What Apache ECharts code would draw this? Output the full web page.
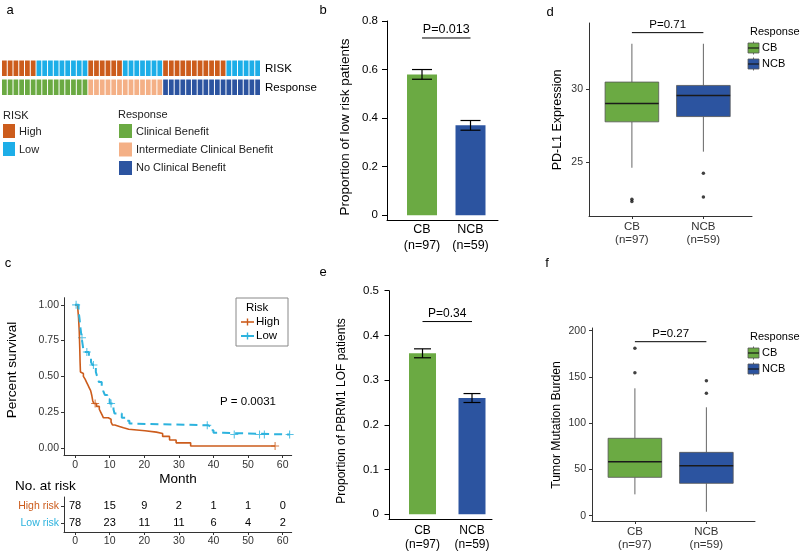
<!DOCTYPE html>
<html><head><meta charset="utf-8">
<script src="https://cdn.jsdelivr.net/npm/echarts@6/dist/echarts.min.js"></script>
<style>html,body{margin:0;padding:0;background:#fff}#c{width:800px;height:555px}</style>
</head><body><div id="c"></div>
<script>
const FF = 'Liberation Sans, Arial, Helvetica, sans-serif';

// ---------- Panel a ----------
const riskRow = [
 'High','High','High','High','High','High',
 'Low','Low','Low','Low','Low','Low','Low','Low','Low',
 'High','High','High','High','High','High',
 'Low','Low','Low','Low','Low','Low','Low',
 'High','High','High','High','High','High','High','High','High','High','High',
 'Low','Low','Low','Low','Low','Low'];
const responseRow = [
 'CB','CB','CB','CB','CB','CB','CB','CB','CB','CB','CB','CB','CB','CB','CB',
 'ICB','ICB','ICB','ICB','ICB','ICB','ICB','ICB','ICB','ICB','ICB','ICB','ICB',
 'NCB','NCB','NCB','NCB','NCB','NCB','NCB','NCB','NCB','NCB','NCB','NCB','NCB','NCB','NCB','NCB','NCB'];
const heatRows = ['Response','RISK'];
const riskLevels = ['High','Low'];
const responseCodes = ['CB','ICB','NCB'];
const responseNames = ['Clinical Benefit','Intermediate Clinical Benefit','No Clinical Benefit'];

// ---------- Groups (b, d, e, f) ----------
const groupNames = ['CB','NCB'];
const groupSizes = [97,59];

// Panel b
const lowRiskProp = [0.58, 0.37];
const lowRiskErr = [[0.56,0.60],[0.35,0.39]];
const pLowRisk = 'P=0.013';
// Panel e
const pbrm1Prop = [0.36, 0.26];
const pbrm1Err = [[0.35,0.37],[0.25,0.27]];
const pPbrm1 = 'P=0.34';
// Panel d  [min, Q1, median, Q3, max]
const pdl1Box = [[24.6,27.74,28.99,30.46,33.08],[25.7,28.1,29.54,30.23,33.08]];
const pdl1Outliers = [[1,22.45],[1,22.3],[2,24.23],[2,22.6]];
const pPdl1 = 'P=0.71';
// Panel f
const tmbBox = [[23.1,41.5,58.4,83.7,137.7],[4.3,35,54,68.5,117.2]];
const tmbOutliers = [[1,181],[1,154.6],[2,146],[2,132.3]];
const pTmb = 'P=0.27';

// Panel c
const kmHigh = [[0,1],[0.8,0.97],[1.0,0.91],[1.2,0.82],[1.35,0.70],[1.45,0.60],[1.55,0.53],[2.0,0.52],[2.4,0.50],[2.9,0.48],[3.3,0.46],[3.7,0.44],[4.1,0.42],[4.5,0.40],[4.8,0.37],[5.1,0.33],[5.4,0.31],[6.2,0.29],[7.0,0.27],[7.4,0.25],[7.8,0.23],[8.2,0.21],[9.6,0.20],[10.4,0.18],[10.8,0.16],[11.5,0.15],[12.8,0.14],[14.0,0.13],[15.5,0.12],[20.2,0.11],[23.5,0.10],[25.3,0.08],[27.3,0.055],[29.2,0.035],[33.4,0.013],[57.8,0.013]];
const kmLow = [[0,1],[1.0,0.96],[1.3,0.90],[1.6,0.83],[1.9,0.77],[2.2,0.72],[2.5,0.67],[4.0,0.63],[4.6,0.60],[5.0,0.58],[6.0,0.53],[6.5,0.49],[6.9,0.46],[7.7,0.43],[8.1,0.40],[8.6,0.37],[9.3,0.34],[10.0,0.31],[11.1,0.27],[11.4,0.24],[13.5,0.21],[14.5,0.19],[15.7,0.17],[16.2,0.158],[38.5,0.145],[39.3,0.123],[40.0,0.105],[42.8,0.093],[62,0.093]];
const censorHigh = [[5.8,0.31],[57.8,0.013]];
const censorLow = [[0.3,1],[2.0,0.77],[3.4,0.67],[5.3,0.58],[10.4,0.31],[38.2,0.158],[46,0.093],[53.3,0.093],[54.7,0.093],[62,0.093]];
const riskMonths = [0,10,20,30,40,50,60];
const atRiskHigh = [78,15,9,2,1,1,0];
const atRiskLow = [78,23,11,11,6,4,2];
const riskTableRows = ['Low risk','High risk'];
const pKM = 'P = 0.0031';
const kmTicksY = [0,0.25,0.5,0.75,1];

// ---------- Colours ----------
const COL = {High:'#CC5C1C', Low:'#1DAEE8', CB:'#6BAA43', ICB:'#F4B086', NCB:'#2C54A0'};
const KM_HIGH = '#CC5C1C', KM_LOW = '#2DB3DE';
const groupColors = [COL.CB, COL.NCB];

const chart = echarts.init(document.getElementById('c'));

function T(x, y, text, o) {
  o = o || {};
  return {type:'text', x:x, y:y, rotation:o.rot||0, silent:true,
    style:{text:text, fill:o.color||'#000', fontSize:o.size||12, fontFamily:FF,
      align:o.align||'left', verticalAlign:o.va||'middle'}};
}
function R(x, y, w, h, fill, stroke) {
  return {type:'rect', shape:{x:x,y:y,width:w,height:h}, silent:true,
    style:{fill:fill, stroke:stroke||null, lineWidth:stroke?0.8:0}};
}
function L(x1,y1,x2,y2,stroke,w,dash){
  return {type:'line', shape:{x1:x1,y1:y1,x2:x2,y2:y2}, silent:true, style:{stroke:stroke, lineWidth:w||1, lineDash:dash||null}};
}
const groupLabel = v => { const i = Math.round(v)-1; return groupNames[i] + '\n(n=' + groupSizes[i] + ')'; };

// ---- cells
const cellData = [], cellColors = [];
riskRow.forEach((v,i)=>{ cellData.push([i,1]); cellColors.push(COL[v]); });
responseRow.forEach((v,i)=>{ cellData.push([i,0]); cellColors.push(COL[v]); });

function cellRender(params, api){
  const p = api.coord([api.value(0), api.value(1)]);
  const s = api.size([1,1]);
  return {type:'rect', shape:{x:p[0]-s[0]/2, y:p[1]-s[1]/2+1.5, width:s[0]-1, height:s[1]-3.5},
    style:{fill:cellColors[params.dataIndex]}};
}
function barRender(width){ return (params, api)=>{
  const x = api.value(0);
  const top = api.coord([x, api.value(1)]), base = api.coord([x, 0]);
  return {type:'rect', shape:{x:top[0]-width/2, y:top[1], width:width, height:base[1]-top[1]},
    style:{fill:groupColors[params.dataIndex]}};
};}
function errRender(cap){ return (params, api)=>{
  const x = api.value(0);
  const lo = api.coord([x, api.value(1)]), hi = api.coord([x, api.value(2)]);
  const st = {stroke:'#000', lineWidth:1.2};
  return {type:'group', children:[
    {type:'line', shape:{x1:lo[0],y1:lo[1],x2:hi[0],y2:hi[1]}, style:st},
    {type:'line', shape:{x1:lo[0]-cap/2,y1:lo[1],x2:lo[0]+cap/2,y2:lo[1]}, style:st},
    {type:'line', shape:{x1:hi[0]-cap/2,y1:hi[1],x2:hi[0]+cap/2,y2:hi[1]}, style:st}]};
};}
function bracketRender(label, size){ return (params, api)=>{
  const a = api.coord([api.value(0), api.value(2)]), b = api.coord([api.value(1), api.value(2)]);
  return {type:'group', children:[
    {type:'line', shape:{x1:a[0],y1:a[1],x2:b[0],y2:b[1]}, style:{stroke:'#000', lineWidth:1}},
    {type:'text', x:(a[0]+b[0])/2, y:a[1]-1.5, style:{text:label, fill:'#000', fontSize:size, fontFamily:FF, align:'center', verticalAlign:'bottom'}}]};
};}
function boxRender(params, api){
  const x = api.value(0);
  const w = api.size([0.75, 0])[0];
  const c = k => api.coord([x, api.value(k)]);
  const pMin=c(1), pQ1=c(2), pMed=c(3), pQ3=c(4), pMax=c(5);
  const cx = pMin[0];
  const fill = groupColors[params.dataIndex];
  return {type:'group', children:[
    {type:'line', shape:{x1:cx,y1:pQ3[1],x2:cx,y2:pMax[1]}, style:{stroke:'#666', lineWidth:1}},
    {type:'line', shape:{x1:cx,y1:pQ1[1],x2:cx,y2:pMin[1]}, style:{stroke:'#666', lineWidth:1}},
    {type:'rect', shape:{x:cx-w/2, y:pQ3[1], width:w, height:pQ1[1]-pQ3[1]}, style:{fill:fill, stroke:'#555', lineWidth:0.8}},
    {type:'line', shape:{x1:cx-w/2,y1:pMed[1],x2:cx+w/2,y2:pMed[1]}, style:{stroke:'#1a1a1a', lineWidth:1.6}}]};
}
function riskTextRender(params, api){
  const p = api.coord([api.value(0), api.value(1)]);
  return {type:'text', x:p[0], y:p[1], style:{text:String(api.value(2)), fill:'#000', fontSize:11, fontFamily:FF, align:'center', verticalAlign:'middle'}};
}

const CROSS = 'path://M-0.8,-6H0.8V-0.8H6V0.8H0.8V6H-0.8V0.8H-6V-0.8H-0.8Z';

// ---- axes helpers
function valAxis(grid, min, max, ticks, o){
  o = o || {};
  return {type:'value', gridIndex:grid, min:min, max:max, splitLine:{show:false},
    axisLine:{show:true, onZero:false, lineStyle:{color:o.lineColor||'#333', width:1}},
    axisTick:{show:o.tick!==false, length:o.tickLen||3, customValues:ticks, lineStyle:{color:o.lineColor||'#333'}},
    axisLabel:{customValues:ticks, formatter:o.fmt, color:o.labelColor||'#333', fontSize:o.size||10.5,
      margin:o.margin||5, fontFamily:FF, lineHeight:o.lh, showMinLabel:true, showMaxLabel:true}};
}

const xAxis = [
  {type:'category', gridIndex:0, data:riskRow.map((v,i)=>i), show:false},
  valAxis(1, 0.278, 2.567, [1,2], {tick:false, fmt:groupLabel, labelColor:'#000', size:12.5, margin:2, lh:16, lineColor:'#000'}),
  valAxis(2, 0.4, 2.68, [1,2], {fmt:groupLabel, size:11.5, margin:4, lh:13}),
  valAxis(3, -3.2, 62.6, riskMonths, {fmt:v=>String(v), size:10.5, margin:5}),
  valAxis(4, -3.2, 62.6, riskMonths, {fmt:v=>String(v), size:10.5, margin:4}),
  valAxis(5, 0.323, 2.404, [1,2], {tick:false, fmt:groupLabel, labelColor:'#000', size:12, margin:5, lh:14, lineColor:'#000'}),
  valAxis(6, 0.4, 2.68, [1,2], {fmt:groupLabel, size:11.5, margin:4, lh:13})
];
const yAxis = [
  {type:'category', gridIndex:0, data:heatRows, position:'right', axisLine:{show:false}, axisTick:{show:false},
    axisLabel:{color:'#000', fontSize:11.5, margin:4, fontFamily:FF}},
  valAxis(1, -0.02, 0.8, [0,0.2,0.4,0.6,0.8], {fmt:v=>v===0?'0':v.toFixed(1), labelColor:'#000', lineColor:'#000', size:11.5, margin:9, tickLen:5}),
  valAxis(2, 21.3, 34.5, [25,30], {fmt:v=>String(v), size:10.5, margin:6}),
  valAxis(3, -0.05, 1.05, kmTicksY, {fmt:v=>v.toFixed(2), size:10.5, margin:5}),
  {type:'category', gridIndex:4, data:riskTableRows.map((r,i)=>({value:r, textStyle:{color:i===1?KM_HIGH:KM_LOW}})),
    axisLine:{show:true, onZero:false, lineStyle:{color:'#333'}}, axisTick:{show:true, length:3, alignWithLabel:true, lineStyle:{color:'#333'}},
    axisLabel:{fontSize:10.5, margin:5, fontFamily:FF}},
  valAxis(5, -0.0105, 0.5, [0,0.1,0.2,0.3,0.4,0.5], {fmt:v=>v===0?'0':v.toFixed(1), labelColor:'#000', lineColor:'#000', size:11.5, margin:10, tickLen:4.5}),
  valAxis(6, -5.7, 202.9, [0,50,100,150,200], {fmt:v=>String(v), size:10.5, margin:6})
];
const grid = [
  {left:2, top:59, width:259, height:38},
  {left:387, top:21, width:111, height:199},
  {left:589, top:23, width:163, height:193},
  {left:64, top:297.7, width:227.7, height:157.3},
  {left:64, top:497, width:227.7, height:35},
  {left:389, top:290.7, width:103, height:228.3},
  {left:592, top:328, width:163, height:193}
];

const S = (o) => Object.assign({silent:true, animation:false}, o);
const series = [
  S({type:'custom', xAxisIndex:0, yAxisIndex:0, renderItem:cellRender, data:cellData}),
  // b
  S({type:'custom', xAxisIndex:1, yAxisIndex:1, renderItem:barRender(30), data:lowRiskProp.map((v,i)=>[i+1,v])}),
  S({type:'custom', xAxisIndex:1, yAxisIndex:1, renderItem:errRender(20), data:lowRiskErr.map((e,i)=>[i+1,e[0],e[1]])}),
  S({type:'custom', xAxisIndex:1, yAxisIndex:1, renderItem:bracketRender(pLowRisk,12.5), data:[[1,2,0.73]]}),
  // d
  S({type:'custom', xAxisIndex:2, yAxisIndex:2, renderItem:boxRender, data:pdl1Box.map((b,i)=>[i+1].concat(b))}),
  S({type:'scatter', xAxisIndex:2, yAxisIndex:2, symbol:'circle', symbolSize:3.5, itemStyle:{color:'#111'}, data:pdl1Outliers}),
  S({type:'custom', xAxisIndex:2, yAxisIndex:2, renderItem:bracketRender(pPdl1,11.5), data:[[1,2,33.84]]}),
  // c
  S({type:'line', xAxisIndex:3, yAxisIndex:3, step:'end', showSymbol:false, data:kmHigh, lineStyle:{color:KM_HIGH, width:1.6}}),
  S({type:'line', xAxisIndex:3, yAxisIndex:3, step:'end', showSymbol:false, data:kmLow, lineStyle:{color:KM_LOW, width:2, type:[8,5]}}),
  S({type:'scatter', xAxisIndex:3, yAxisIndex:3, symbol:CROSS, symbolSize:8, itemStyle:{color:KM_HIGH}, data:censorHigh}),
  S({type:'scatter', xAxisIndex:3, yAxisIndex:3, symbol:CROSS, symbolSize:8, itemStyle:{color:KM_LOW}, data:censorLow}),
  S({type:'custom', xAxisIndex:4, yAxisIndex:4, renderItem:riskTextRender,
     data:riskMonths.map((m,i)=>[m,1,atRiskHigh[i]]).concat(riskMonths.map((m,i)=>[m,0,atRiskLow[i]]))}),
  // e
  S({type:'custom', xAxisIndex:5, yAxisIndex:5, renderItem:barRender(27), data:pbrm1Prop.map((v,i)=>[i+1,v])}),
  S({type:'custom', xAxisIndex:5, yAxisIndex:5, renderItem:errRender(17), data:pbrm1Err.map((e,i)=>[i+1,e[0],e[1]])}),
  S({type:'custom', xAxisIndex:5, yAxisIndex:5, renderItem:bracketRender(pPbrm1,12), data:[[1,2,0.431]]}),
  // f
  S({type:'custom', xAxisIndex:6, yAxisIndex:6, renderItem:boxRender, data:tmbBox.map((b,i)=>[i+1].concat(b))}),
  S({type:'scatter', xAxisIndex:6, yAxisIndex:6, symbol:'circle', symbolSize:3.5, itemStyle:{color:'#111'}, data:tmbOutliers}),
  S({type:'custom', xAxisIndex:6, yAxisIndex:6, renderItem:bracketRender(pTmb,11.5), data:[[1,2,188.1]]})
];

// ---- graphic: labels, legends, titles
const g = [];
[['a',10,10],['b',323,10],['d',550,12],['c',8,263],['e',323,272],['f',547,263]].forEach(p=>g.push(T(p[1],p[2],p[0],{size:13,align:'center'})));
// panel a legends
g.push(T(3,116,'RISK',{size:11,color:'#222'}));
riskLevels.forEach((lv,i)=>{ g.push(R(3,124+i*18,12,14,COL[lv])); g.push(T(19,132+i*18,lv,{size:11,color:'#222'})); });
g.push(T(118,115,'Response',{size:11,color:'#222'}));
responseCodes.forEach((cd,i)=>{ g.push(R(119,124+i*18.5,13,14,COL[cd])); g.push(T(136,132+i*18.2,responseNames[i],{size:11,color:'#222'})); });
// axis titles
g.push(T(345,127,'Proportion of low risk patients',{size:13.5,align:'center',rot:Math.PI/2}));
g.push(T(342,411,'Proportion of PBRM1 LOF patients',{size:12,align:'center',rot:Math.PI/2}));
g.push(T(558,120,'PD-L1 Expression',{size:12.5,align:'center',rot:Math.PI/2}));
g.push(T(557,425,'Tumor Mutation Burden',{size:12.2,align:'center',rot:Math.PI/2}));
g.push(T(12,370,'Percent survival',{size:13.6,align:'center',rot:Math.PI/2}));
g.push(T(178,479,'Month',{size:13.5,align:'center'}));
g.push(T(15,486,'No. at risk',{size:13.5}));
g.push(T(220,402,pKM,{size:11.5}));
// KM legend
g.push({type:'rect', shape:{x:236,y:298,width:52,height:48}, silent:true, style:{fill:'#fff', stroke:'#888', lineWidth:1}});
g.push(T(246,308,'Risk',{size:11.5}));
g.push(L(241,322,254,322,KM_HIGH,1.6)); g.push(L(247.5,318.5,247.5,325.5,KM_HIGH,1.4));
g.push(T(256,322,'High',{size:11.5}));
g.push(L(241,336,254,336,KM_LOW,2)); g.push(L(247.5,332.5,247.5,339.5,KM_LOW,1.4));
g.push(T(256,336,'Low',{size:11.5}));
// box legends (d, f)
function boxLegend(y0){
  g.push(T(750,y0,'Response',{size:11}));
  groupNames.forEach((nm,i)=>{
    const ky = y0+11+i*16;
    g.push(L(753.5,ky-1.5,753.5,ky+11.5,'#666',1));
    g.push(R(748,ky,11,10,groupColors[i],'#555'));
    g.push(L(748,ky+5,759,ky+5,'#1a1a1a',1.2));
    g.push(T(762,ky+5,nm,{size:11}));
  });
}
boxLegend(32); boxLegend(337);

chart.setOption({
  animation:false,
  textStyle:{fontFamily:FF},
  grid:grid, xAxis:xAxis, yAxis:yAxis, series:series, graphic:g
});
</script></body></html>
